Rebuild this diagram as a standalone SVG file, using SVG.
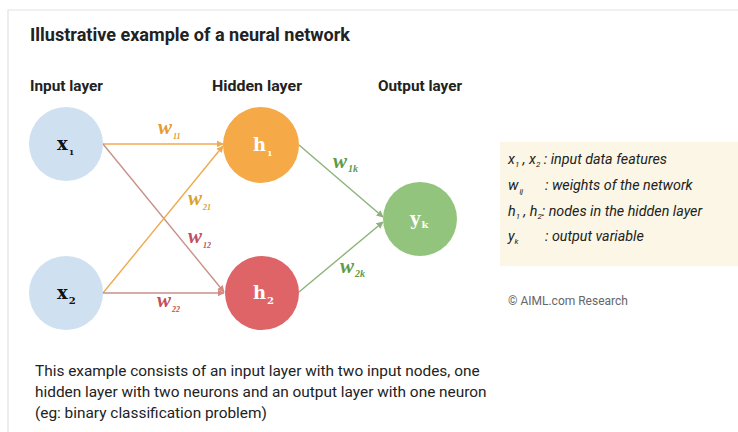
<svg xmlns="http://www.w3.org/2000/svg" width="738" height="432" viewBox="0 0 738 432">
<style>
.hd{font-family:Roboto,"Liberation Sans",sans-serif;font-weight:700;fill:#222}
.nl{font-family:"DejaVu Serif","Liberation Serif",serif;font-weight:700}
.wl{font-family:"Liberation Serif","DejaVu Serif",serif;font-style:italic;font-weight:700}
.lg{font-family:Roboto,"Liberation Sans",sans-serif;font-style:italic;font-size:14.3px;fill:#222}
.bt{font-family:Roboto,"Liberation Sans",sans-serif;font-size:15.4px;fill:#222}
.eo{stroke:#F0AA4E;stroke-width:1.4;fill:none}
.er{stroke:#C99088;stroke-width:1.4;fill:none}
.eg{stroke:#8BB37A;stroke-width:1.4;fill:none}
</style>
<defs>
<marker id="ao" viewBox="0 0 10 10" refX="9" refY="5" markerWidth="7" markerHeight="7" orient="auto" markerUnits="userSpaceOnUse"><path d="M0,0 L10,5 L0,10 z" fill="#F0AA4E"/></marker>
<marker id="ar" viewBox="0 0 10 10" refX="9" refY="5" markerWidth="7" markerHeight="7" orient="auto" markerUnits="userSpaceOnUse"><path d="M0,0 L10,5 L0,10 z" fill="#D8877E"/></marker>
<marker id="ag" viewBox="0 0 10 10" refX="9" refY="5" markerWidth="7" markerHeight="7" orient="auto" markerUnits="userSpaceOnUse"><path d="M0,0 L10,5 L0,10 z" fill="#8BB37A"/></marker>
</defs>
<rect width="738" height="432" fill="#fff"/>
<path d="M8,432 V10 H738" fill="none" stroke="#e2e2e2" stroke-width="1.2"/>
<text class="hd" x="30" y="41" font-size="18" textLength="320" lengthAdjust="spacingAndGlyphs">Illustrative example of a neural network</text>
<text class="hd" x="30" y="91" font-size="14" textLength="73" lengthAdjust="spacingAndGlyphs">Input layer</text>
<text class="hd" x="212" y="91" font-size="14" textLength="90" lengthAdjust="spacingAndGlyphs">Hidden layer</text>
<text class="hd" x="378" y="91" font-size="14" textLength="84" lengthAdjust="spacingAndGlyphs">Output layer</text>
<g id="connectors">
<line class="eo" x1="103" y1="144" x2="223" y2="144" marker-end="url(#ao)"/>
<line class="er" x1="103" y1="144" x2="224" y2="292" marker-end="url(#ar)"/>
<line class="eo" x1="103" y1="293" x2="223" y2="146" marker-end="url(#ao)"/>
<line class="er" x1="103" y1="293" x2="224" y2="293" marker-end="url(#ar)"/>
<line class="eg" x1="299" y1="145" x2="383" y2="217" marker-end="url(#ag)"/>
<line class="eg" x1="299" y1="292" x2="383" y2="222" marker-end="url(#ag)"/>
<text class="wl" x="158" y="134" font-size="21" fill="#E69A32">w<tspan font-size="8" dx="1" dy="5">11</tspan></text>
<text class="wl" x="188" y="205" font-size="21" fill="#D9A22E">w<tspan font-size="8" dx="1" dy="5">21</tspan></text>
<text class="wl" x="188" y="243" font-size="21" fill="#C05060">w<tspan font-size="8" dx="1" dy="5">12</tspan></text>
<text class="wl" x="157" y="307" font-size="21" fill="#C05060">w<tspan font-size="8" dx="1" dy="5">22</tspan></text>
<text class="wl" x="333" y="168" font-size="21" fill="#5E9A48">w<tspan font-size="10" dx="1" dy="4">1k</tspan></text>
<text class="wl" x="340" y="273" font-size="21" fill="#5E9A48">w<tspan font-size="10" dx="1" dy="4">2k</tspan></text>
</g>
<g id="x1"><circle cx="66" cy="144" r="37" fill="#CFE0F1"/><text class="nl" x="57" y="150" font-size="18" fill="#111">x<tspan font-size="8" dx="1" dy="5">1</tspan></text></g>
<g id="x2"><circle cx="66" cy="293" r="37" fill="#CFE0F1"/><text class="nl" x="57" y="299" font-size="18" fill="#111">x<tspan font-size="10" dx="1" dy="5">2</tspan></text></g>
<g id="h1"><circle cx="261" cy="145" r="38" fill="#F5A947"/><text class="nl" x="253" y="151" font-size="18" fill="#fff">h<tspan font-size="8" dx="1" dy="5">1</tspan></text></g>
<g id="h2"><circle cx="262" cy="293" r="37" fill="#DE6468"/><text class="nl" x="253" y="299" font-size="18" fill="#fff">h<tspan font-size="10" dx="1" dy="5">2</tspan></text></g>
<g id="yk"><circle cx="420" cy="219" r="37" fill="#93C47D"/><text class="nl" x="410" y="225" font-size="18" fill="#fff">y<tspan font-size="10" dx="1" dy="3">k</tspan></text></g>
<g id="legend">
<rect x="500" y="142" width="238" height="124" fill="#FBF6E5"/>
<text class="lg" x="508" y="164">x<tspan font-size="8" dy="3">1</tspan><tspan dy="-3"> , x</tspan><tspan font-size="8" dy="3">2</tspan><tspan dy="-3"> : input data features</tspan></text>
<text class="lg" x="508" y="190">w<tspan font-size="8" dx="1" dy="4">ij</tspan></text>
<text class="lg" x="545" y="190">: weights of the network</text>
<text class="lg" x="508" y="216">h<tspan font-size="8" dy="3">1</tspan><tspan dy="-3"> , h</tspan><tspan font-size="8" dy="3">2</tspan><tspan dy="-3">: nodes in the hidden layer</tspan></text>
<text class="lg" x="508" y="241">y<tspan font-size="8" dy="3">k</tspan></text>
<text class="lg" x="545" y="241">: output variable</text>
</g>
<text x="508" y="305" font-family="Roboto,'Liberation Sans',sans-serif" font-size="12" fill="#666">© AIML.com Research</text>
<text class="bt" x="35" y="376">This example consists of an input layer with two input nodes, one</text>
<text class="bt" x="35" y="397">hidden layer with two neurons and an output layer with one neuron</text>
<text class="bt" x="35" y="418">(eg: binary classification problem)</text>
</svg>
